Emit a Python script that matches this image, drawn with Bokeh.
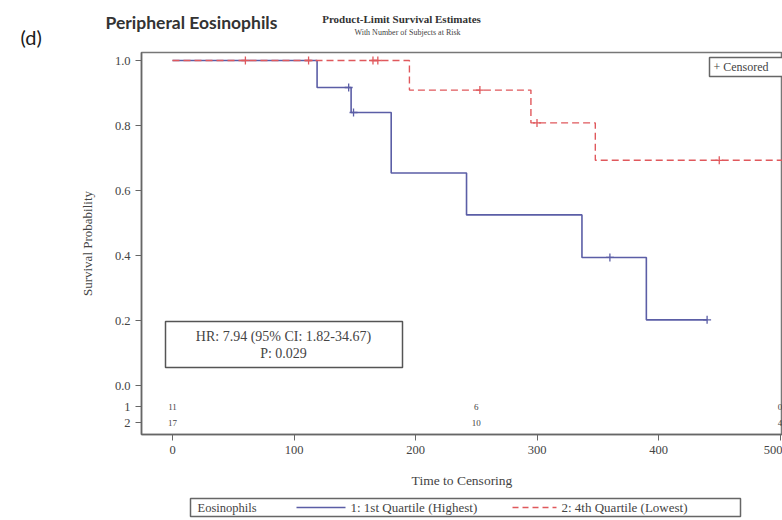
from bokeh.plotting import figure
from bokeh.layouts import column
from bokeh.models import Range1d, Label, BoxAnnotation, FixedTicker, ColumnDataSource
from bokeh.core.properties import value
from bokeh.embed import file_html
from bokeh.resources import INLINE

# ---------------- data ----------------
blue_time = [0, 119, 147, 180, 242, 337, 390, 440]
blue_surv = [1.0, 0.917, 0.840, 0.654, 0.525, 0.394, 0.202, 0.202]
blue_cens_time = [145, 149, 360, 440]
blue_cens_surv = [0.917, 0.840, 0.394, 0.202]

red_time = [0, 195, 295, 348, 515]
red_surv = [1.0, 0.909, 0.808, 0.693, 0.693]
red_cens_time = [60, 112, 165, 169, 253, 300, 450]
red_cens_surv = [1.0, 1.0, 1.0, 1.0, 0.909, 0.808, 0.693]

risk_times = [0, 250, 500]
risk_group1 = ["11", "6", "0"]
risk_group2 = ["17", "10", "4"]
risk_row_names = ["1", "2"]

x_ticks = [0, 100, 200, 300, 400, 500]
y_ticks = [0.0, 0.2, 0.4, 0.6, 0.8, 1.0]

BLUE = "#5b5ea6"
RED = "#e0585c"
SERIF = "Liberation Serif"
GREY = "#444444"

W = 782
TOP_H, MAIN_H, BOT_H = 50, 444, 26          # stacked heights (sum 520)

# main frame edges in window px
FL, FR, FT, FB = 141, 782, 52, 434
X0, XS = 172.0, 1.215                       # px of x=0, px per unit
Y0, YS = 385.0, 325.0                       # px of y=0, px per unit
ROW1_Y, ROW2_Y = -0.065, -0.115             # at-risk rows (data units)


def dx(px):
    return (px - X0) / XS


def dy(py):
    return (Y0 - py) / YS


def blank(h):
    f = figure(width=W, height=h, output_backend="svg", toolbar_location=None,
               x_axis_type=None, y_axis_type=None, frame_align=False,
               min_border_left=0, min_border_right=0, min_border_top=0,
               min_border_bottom=0)
    f.grid.visible = False
    f.outline_line_color = None
    f.background_fill_color = "white"
    f.border_fill_color = "white"
    return f


# ---------------- title strip ----------------
top = blank(TOP_H)
top.x_range = Range1d(0, W)
top.y_range = Range1d(TOP_H, 0)


def ttext(f, px, py, text, size, font=SERIF, align="left", style="normal",
          color=GREY):
    f.add_layout(Label(x=px, y=py, text=text, text_align=align,
                       text_baseline="middle", text_font=font,
                       text_font_size=size, text_font_style=style,
                       text_color=color))


ttext(top, 20, 36, "(d)", "20px", font="Lato", color="#1a1a1a")
ttext(top, 105, 22, "Peripheral Eosinophils", "17.5px", font="Lato",
      style="bold", color="#333333")
ttext(top, 401, 18, "Product-Limit Survival Estimates", "11px",
      align="center", style="bold", color="#333333")
ttext(top, 407, 32, "With Number of Subjects at Risk", "8px", align="center")

# ---------------- main plot ----------------
p = figure(width=W, height=MAIN_H, output_backend="svg", toolbar_location=None,
           x_range=Range1d(dx(FL), dx(FR)), y_range=Range1d(dy(FB), dy(FT)),
           frame_align=False,
           min_border_left=FL, min_border_right=W - FR,
           min_border_top=FT - TOP_H, min_border_bottom=TOP_H + MAIN_H - FB)
p.grid.visible = False
p.outline_line_color = "#777777"
p.outline_line_width = 1.5
p.background_fill_color = "white"
p.border_fill_color = "white"

for ax in (p.xaxis[0], p.yaxis[0]):
    ax.axis_line_color = "#666666"
    ax.axis_line_width = 1.5
    ax.major_tick_line_color = "#666666"
    ax.major_tick_out = 6
    ax.major_tick_in = 0
    ax.minor_tick_line_color = None
    ax.major_label_text_font = SERIF
    ax.major_label_text_font_size = "12.5px"
    ax.major_label_text_color = GREY
    ax.axis_label_text_font = SERIF
    ax.axis_label_text_font_style = "normal"
    ax.axis_label_text_color = GREY

p.xaxis.ticker = FixedTicker(ticks=x_ticks)
overrides = {t: f"{t:.1f}" for t in y_ticks}
overrides[ROW1_Y] = risk_row_names[0]
overrides[ROW2_Y] = risk_row_names[1]
p.yaxis.ticker = FixedTicker(ticks=[ROW2_Y, ROW1_Y] + y_ticks)
p.yaxis.major_label_overrides = overrides
p.xaxis.axis_label = "Time to Censoring"
p.xaxis.axis_label_text_font_size = "13.5px"
p.xaxis.major_label_standoff = 5
p.xaxis.axis_label_standoff = 16
p.yaxis.axis_label = "Survival Probability"
p.yaxis.axis_label_text_font_size = "13px"
p.yaxis.major_label_standoff = 5
p.yaxis.axis_label_standoff = 17

# curves
p.step(blue_time, blue_surv, mode="after", line_color=BLUE, line_width=1.6)
p.step(red_time, red_surv, mode="after", line_color=RED, line_width=1.4,
       line_dash="7 4")
p.scatter(blue_cens_time, blue_cens_surv, marker="cross", size=8,
          line_color=BLUE, line_width=1.3)
p.scatter(red_cens_time, red_cens_surv, marker="cross", size=8,
          line_color=RED, line_width=1.3)

# numbers at risk
src1 = ColumnDataSource(dict(x=risk_times, y=[ROW1_Y] * 3, t=risk_group1))
src2 = ColumnDataSource(dict(x=risk_times, y=[ROW2_Y] * 3, t=risk_group2))
for s in (src1, src2):
    p.text(x="x", y="y", text="t", source=s, text_align="center",
           text_baseline="middle", text_font=value(SERIF),
           text_font_size="9px", text_color=GREY)

# HR box
p.add_layout(BoxAnnotation(left=dx(165), right=dx(402), top=dy(321),
                           bottom=dy(367), fill_alpha=0, line_color="#555555",
                           line_alpha=1, line_width=1.5))
p.add_layout(Label(x=dx(283), y=dy(336), text="HR: 7.94 (95% CI: 1.82-34.67)",
                   text_align="center", text_baseline="middle",
                   text_font=SERIF, text_font_size="14px", text_color=GREY))
p.add_layout(Label(x=dx(283), y=dy(353), text="P: 0.029",
                   text_align="center", text_baseline="middle",
                   text_font=SERIF, text_font_size="14px", text_color=GREY))

# censored legend box (top right, cut by the window edge)
p.add_layout(BoxAnnotation(left=dx(709), right=dx(800), top=dy(57),
                           bottom=dy(76), fill_color="white", fill_alpha=1,
                           line_color="#666666", line_alpha=1, line_width=1.5))
p.add_layout(Label(x=dx(713), y=dy(66.5), text="+ Censored", text_align="left",
                   text_baseline="middle", text_font=SERIF,
                   text_font_size="12px", text_color=GREY))

# ---------------- bottom legend strip ----------------
bot = blank(BOT_H)
bot.x_range = Range1d(0, W)
bot.y_range = Range1d(BOT_H, 0)
bot.add_layout(BoxAnnotation(left=190, right=740, top=4, bottom=22,
                             fill_alpha=0, line_color="#666666", line_alpha=1,
                             line_width=1.5))
ttext(bot, 197, 13, "Eosinophils", "12.5px")
bot.segment(x0=[296], y0=[13], x1=[345], y1=[13], line_color=BLUE,
            line_width=1.5)
ttext(bot, 350, 13, "1: 1st Quartile (Highest)", "13px")
bot.segment(x0=[512], y0=[13], x1=[556], y1=[13], line_color=RED,
            line_width=1.4, line_dash="6 4")
ttext(bot, 561, 13, "2: 4th Quartile (Lowest)", "13px")

layout = column(top, p, bot, spacing=0)
open("out.html", "w").write(file_html(layout, INLINE))
